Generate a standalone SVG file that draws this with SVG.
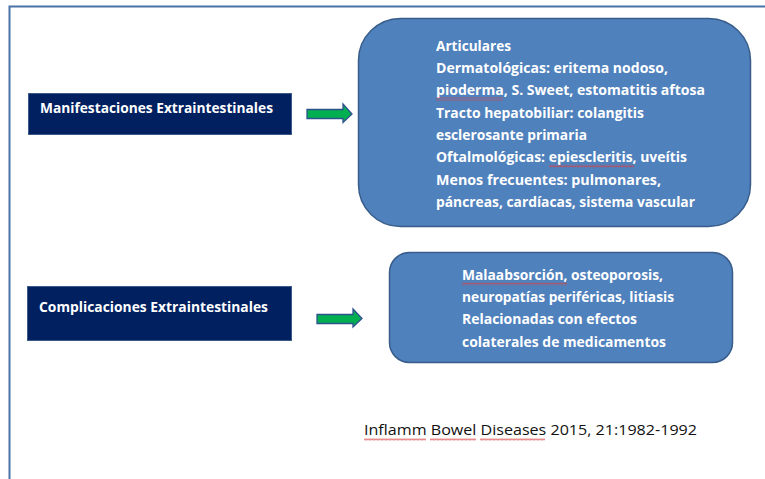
<svg xmlns="http://www.w3.org/2000/svg" width="765" height="479" viewBox="0 0 765 479">
  <style>
    .label { font-family: "Open Sans", Lato, "Liberation Sans", sans-serif; font-weight: bold; font-size: 13.5px; fill: #ffffff; }
    .body { font-family: "Open Sans", Lato, "Liberation Sans", sans-serif; font-weight: bold; font-size: 14px; fill: #ffffff; }
    .cite { font-family: "Open Sans", Lato, "Liberation Sans", sans-serif; font-size: 14.5px; fill: #111111; }
    .navy { fill: #002060; stroke: #3A5A8C; stroke-width: 1; }
    .blue { fill: #4F81BD; stroke: #385D8A; stroke-width: 1.5; }
    .arrow { fill: #00B050; stroke: #2F528F; stroke-width: 1.3; }
    .squig { fill: url(#wave); }
  </style>
  <defs>
    <pattern id="wave" width="4" height="3" patternUnits="userSpaceOnUse">
      <polyline points="0,2.5 1,0.5 2,2.5 3,0.5 4,2.5" fill="none" stroke="#D84040" stroke-width="0.6"/>
    </pattern>
  </defs>
  <rect width="765" height="479" fill="#ffffff"/>
  <!-- frame -->
  <g id="frame">
    <path d="M9.5,479 L9.5,6.5 L765,6.5" fill="none" stroke="#4A72A8" stroke-width="2"/>
  </g>

  <g id="manifestaciones">
    <rect class="navy" x="28.5" y="93.5" width="263" height="41"/>
    <text class="label" x="40" y="113" textLength="233" lengthAdjust="spacingAndGlyphs">Manifestaciones Extraintestinales</text>
  </g>

  <g id="complicaciones">
    <rect class="navy" x="27.5" y="286.5" width="264" height="54"/>
    <text class="label" x="39" y="312" textLength="229" lengthAdjust="spacingAndGlyphs">Complicaciones Extraintestinales</text>
  </g>

  <g id="connectors">
    <polygon class="arrow" points="307,109.5 343,109.5 343,104 352,114 343,122.5 343,118.5 307,118.5"/>
    <polygon class="arrow" points="317,314.5 353,314.5 353,309 362,318.5 353,327 353,323.5 317,323.5"/>
  </g>

  <g id="manifestaciones-detalle">
    <rect class="blue" x="358.5" y="18.5" width="392" height="208" rx="42" ry="42"/>
    <text class="body" x="436" y="51" textLength="75" lengthAdjust="spacingAndGlyphs">Articulares</text>
    <text class="body" x="436" y="73" textLength="232" lengthAdjust="spacingAndGlyphs">Dermatológicas: eritema nodoso,</text>
    <text class="body" x="436" y="95" textLength="269" lengthAdjust="spacingAndGlyphs">pioderma, S. Sweet, estomatitis aftosa</text>
    <text class="body" x="436" y="118" textLength="208" lengthAdjust="spacingAndGlyphs">Tracto hepatobiliar: colangitis</text>
    <text class="body" x="436" y="140" textLength="151" lengthAdjust="spacingAndGlyphs">esclerosante primaria</text>
    <text class="body" x="436" y="162" textLength="251" lengthAdjust="spacingAndGlyphs">Oftalmológicas: epiescleritis, uveítis</text>
    <text class="body" x="436" y="185" textLength="225" lengthAdjust="spacingAndGlyphs">Menos frecuentes: pulmonares,</text>
    <text class="body" x="436" y="207" textLength="259" lengthAdjust="spacingAndGlyphs">páncreas, cardíacas, sistema vascular</text>
    <rect class="squig" x="436" y="97.5" width="67" height="3"/>
    <rect class="squig" x="549" y="164.5" width="85" height="3"/>
  </g>

  <g id="complicaciones-detalle">
    <rect class="blue" x="389.5" y="252.5" width="343" height="110" rx="20" ry="20"/>
    <text class="body" x="462" y="280" textLength="201" lengthAdjust="spacingAndGlyphs">Malaabsorción, osteoporosis,</text>
    <text class="body" x="462" y="302" textLength="212" lengthAdjust="spacingAndGlyphs">neuropatías periféricas, litiasis</text>
    <text class="body" x="462" y="324" textLength="175" lengthAdjust="spacingAndGlyphs">Relacionadas con efectos</text>
    <text class="body" x="462" y="347" textLength="204" lengthAdjust="spacingAndGlyphs">colaterales de medicamentos</text>
    <rect class="squig" x="462" y="282.5" width="105" height="3"/>
  </g>

  <g id="cita">
    <text class="cite" x="364" y="435" textLength="333" lengthAdjust="spacingAndGlyphs">Inflamm Bowel Diseases 2015, 21:1982-1992</text>
    <rect class="squig" x="364" y="438" width="62" height="3"/>
    <rect class="squig" x="430" y="438" width="46" height="3"/>
    <rect class="squig" x="480" y="438" width="65" height="3"/>
  </g>
</svg>
